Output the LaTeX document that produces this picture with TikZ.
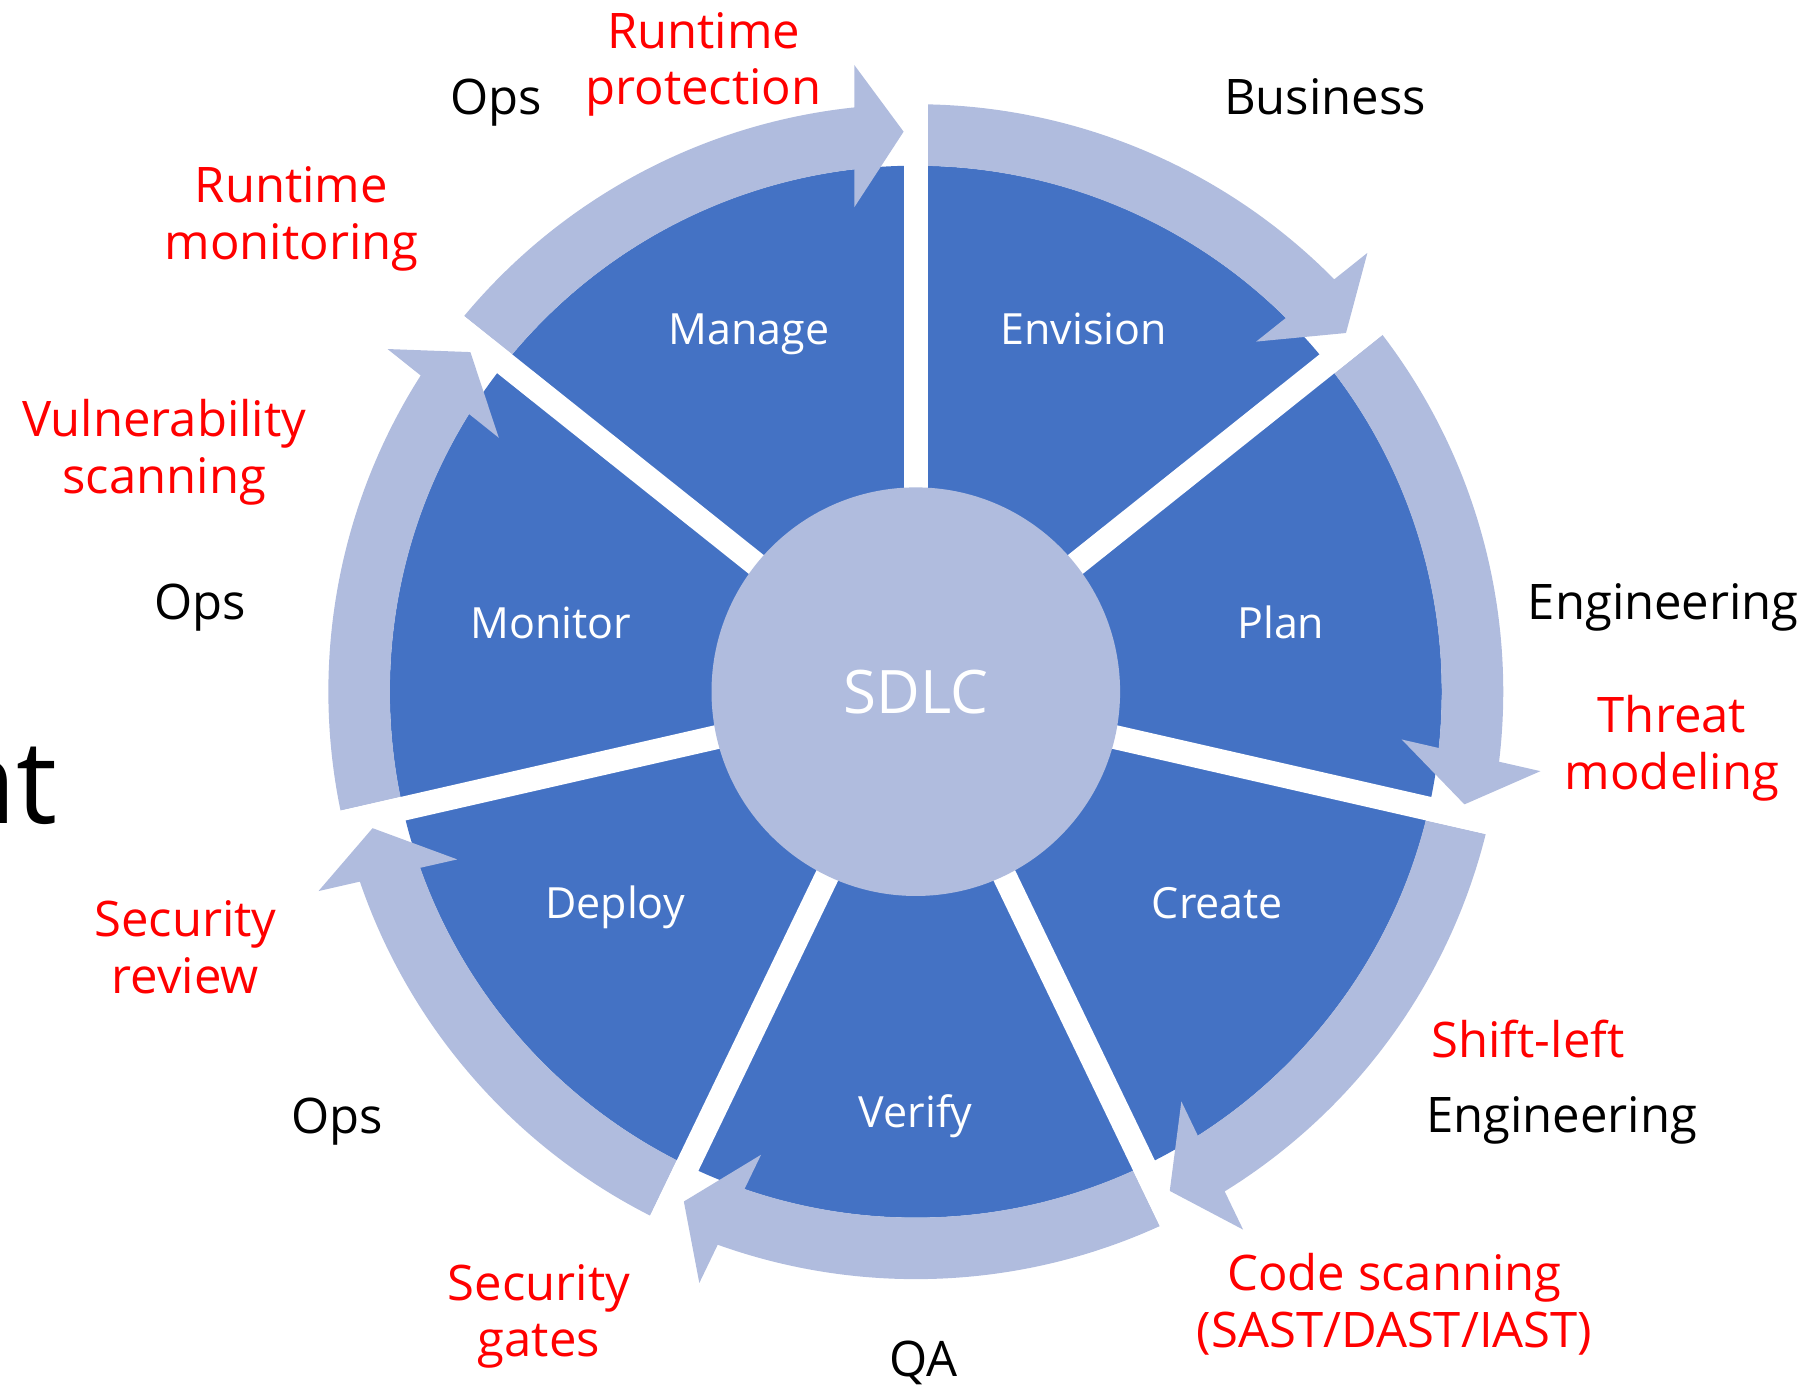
\documentclass[tikz,border=0pt]{standalone}
\usepackage{fontspec}
\setmainfont{Open Sans}
\definecolor{segblue}{RGB}{68,114,196}
\definecolor{ringc}{RGB}{176,188,222}
\definecolor{labred}{RGB}{255,0,0}

\begin{document}
\begin{tikzpicture}[x=0.5pt,y=0.5pt,
  seglabel/.style={text=white, font=\fontsize{21.5}{26}\selectfont, anchor=base, inner sep=0pt},
  role/.style={text=black, font=\fontsize{24.5}{28.35}\selectfont, anchor=base, inner sep=0pt},
  practice/.style={text=labred, font=\fontsize{24.5}{28.35}\selectfont, align=center, anchor=base, inner sep=0pt},
  cyclearrow/.style={fill=ringc},
  gapline/.style={draw=white, line width=12pt, line cap=butt}
]
\useasboundingbox (0,0) rectangle (1806,1390);
\coordinate (C) at (915.8,698.3);

% blue disc, later split into seven segments
\fill[segblue] (C) circle[radius=526];

% one curved arrow per segment, drawn for the top segment and rotated
\foreach \k in {0,...,6}{
  \begin{scope}[shift={(C)}, rotate=-51.4286*\k]
    \fill[cyclearrow] (140.26:587.5) arc[start angle=140.26, end angle=96.01, radius=587.5]
      -- (-61.5,626.7) -- (-12.2,560) -- (-61.5,484.4)
      -- (96.71:526) arc[start angle=96.71, end angle=140.12, radius=526] -- cycle;
  \end{scope}
}

% white gaps between the segments
\foreach \k in {0,...,6}
  \draw[gapline] (C) -- ++({90-51.4286*\k}:596);

% hub
\node[circle, fill=ringc, minimum size=204.3pt, inner sep=0pt, text=white,
      font=\fontsize{30}{36}\selectfont] (sdlc) at (C) {SDLC};

% segment names
\node[seglabel] (manage)   at (749.1,1045) {Manage};
\node[seglabel] (envision) at (1083.6,1045) {Envision};
\node[seglabel] (plan)     at (1280.8,751) {Plan};
\node[seglabel] (monitor)  at (550.6,751) {Monitor};
\node[seglabel] (create)   at (1217.5,471) {Create};
\node[seglabel] (deploy)   at (615,471) {Deploy};
\node[seglabel] (verify)   at (915.7,262) {Verify};

% owners
\node[role] (business) at (1325,1275) {Business};
\node[role] (opsTop)   at (496.4,1275) {Ops};
\node[role] (opsLeft)  at (200,770) {Ops};
\node[role] (opsLow)   at (337.5,256.7) {Ops};
\node[role] (engRight) at (1663.3,770.4) {Engineering};
\node[role] (engLow)   at (1561.7,257) {Engineering};
\node[role] (qa)       at (923.4,13.1) {QA};

% security practices (positioned by the baseline of their last line)
\node[practice] (rtprot)   at (703.6,1285) {Runtime\\protection};
\node[practice] (rtmon)    at (291.4,1130.6) {Runtime\\monitoring};
\node[practice] (vuln)     at (164.2,896.7) {Vulnerability\\scanning};
\node[practice] (secrev)   at (185.4,396.7) {Security\\review};
\node[practice] (threat)   at (1672,600.7) {Threat\\modeling};
\node[practice] (shift)    at (1528,332.3) {Shift-left};
\node[practice] (codescan) at (1394.5,42.6) {Code scanning\\(SAST/DAST/IAST)};
\node[practice] (secgates) at (539,33) {Security\\gates};

% end of the slide title running in from the left
\node[font=\fontsize{58}{68}\selectfont, anchor=base east, inner sep=0pt] (titletail) at (58,566.7) {nt};
\end{tikzpicture}
\end{document}
